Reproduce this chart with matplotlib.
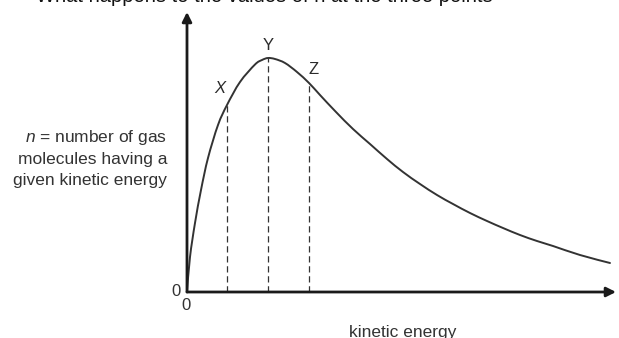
import matplotlib.pyplot as plt
from matplotlib.path import Path
from matplotlib.patches import PathPatch

plt.rcParams['font.family'] = ['Liberation Sans', 'DejaVu Sans']
plt.rcParams['mathtext.fontset'] = 'custom'
plt.rcParams['mathtext.it'] = 'Liberation Sans:italic'
plt.rcParams['mathtext.rm'] = 'Liberation Sans'

energy = [0.0, 0.3, 0.8, 1.4, 2.1, 3.1, 4.0, 5.3, 6.8, 7.5, 8.1, 8.8,
          9.8, 11.0, 12.2, 13.3, 14.9, 16.6, 18.3, 20.0, 21.6, 23.3,
          25.0, 26.6, 28.3, 30.0, 31.6, 33.3, 35.0, 36.6, 39.3, 42.3]
n_vals = [0.0, 3.5, 6.9, 10.2, 13.4, 16.7, 18.7, 21.0, 22.75, 23.2, 23.4,
          23.3, 22.9, 22.0, 20.9, 19.7, 18.0, 16.3, 14.8, 13.3, 12.0, 10.8,
          9.7, 8.8, 7.9, 7.1, 6.4, 5.7, 5.1, 4.6, 3.7, 2.9]

# marked points on the curve
point_names = ['X', 'Y', 'Z']
point_e = [4.0, 8.1, 12.2]
point_n = [18.7, 23.4, 20.9]


def smooth_path(xs, ys):
    # Catmull-Rom through the points, written as cubic Bezier segments
    pts = list(zip(xs, ys))
    verts = [pts[0]]
    codes = [Path.MOVETO]
    for i in range(len(pts) - 1):
        p0 = pts[max(i - 1, 0)]
        p1 = pts[i]
        p2 = pts[i + 1]
        p3 = pts[min(i + 2, len(pts) - 1)]
        c1 = (p1[0] + (p2[0] - p0[0]) / 6, p1[1] + (p2[1] - p0[1]) / 6)
        c2 = (p2[0] - (p3[0] - p1[0]) / 6, p2[1] - (p3[1] - p1[1]) / 6)
        verts += [c1, c2, p2]
        codes += [Path.CURVE4] * 3
    return Path(verts, codes)


W, H = 619, 338
fig = plt.figure(figsize=(W / 100, H / 100), dpi=100)
ax = fig.add_axes([187 / W, (H - 292) / H, 429 / W, 280 / H])
ax.set_xlim(0, 42.9)
ax.set_ylim(0, 28.0)
ax.axis('off')

axis_col = '#1a1a1a'
ax.annotate('', xy=(1, 0), xytext=(0, 0), xycoords='axes fraction',
            arrowprops=dict(arrowstyle='-|>', lw=2, color=axis_col,
                            mutation_scale=14, shrinkA=0, shrinkB=0))
ax.annotate('', xy=(0, 1), xytext=(0, 0), xycoords='axes fraction',
            arrowprops=dict(arrowstyle='-|>', lw=2, color=axis_col,
                            mutation_scale=14, shrinkA=0, shrinkB=0))

ax.add_patch(PathPatch(smooth_path(energy, n_vals), fill=False,
                       edgecolor='#333333', lw=1.4, capstyle='round',
                       clip_on=False))

for e, nv in zip(point_e, point_n):
    ax.plot([e, e], [0, nv], color='#333333', lw=0.9, ls=(0, (5, 3)))

label_off = {'X': (-0.7, 0.9), 'Y': (0.0, 0.5), 'Z': (0.5, 0.6)}
for name, e, nv in zip(point_names, point_e, point_n):
    dx, dy = label_off[name]
    ax.text(e + dx, nv + dy, name, fontsize=12, color='#2b2b2b',
            ha='center', va='bottom', style='italic' if name == 'X' else 'normal')

txt_col = '#333333'
fig.text(167 / W, 1 - 158 / H,
         '$n$ = number of gas\nmolecules having a\ngiven kinetic energy',
         ha='right', va='center', fontsize=12.5, color=txt_col,
         linespacing=1.45)
fig.text(176 / W, 1 - 292 / H, '0', ha='center', va='center',
         fontsize=12, color=txt_col)
fig.text(186 / W, 1 - 306 / H, '0', ha='center', va='center',
         fontsize=12, color=txt_col)
fig.text(403 / W, (H - 337) / H, 'kinetic energy', ha='center',
         va='baseline', fontsize=12.5, color=txt_col)
fig.text(36 / W, 1 - 1.5 / H,
         'What happens to the values of n at the three points',
         ha='left', va='baseline', fontsize=14.5, color='#111111')

fig.savefig('out.png', dpi=100)
